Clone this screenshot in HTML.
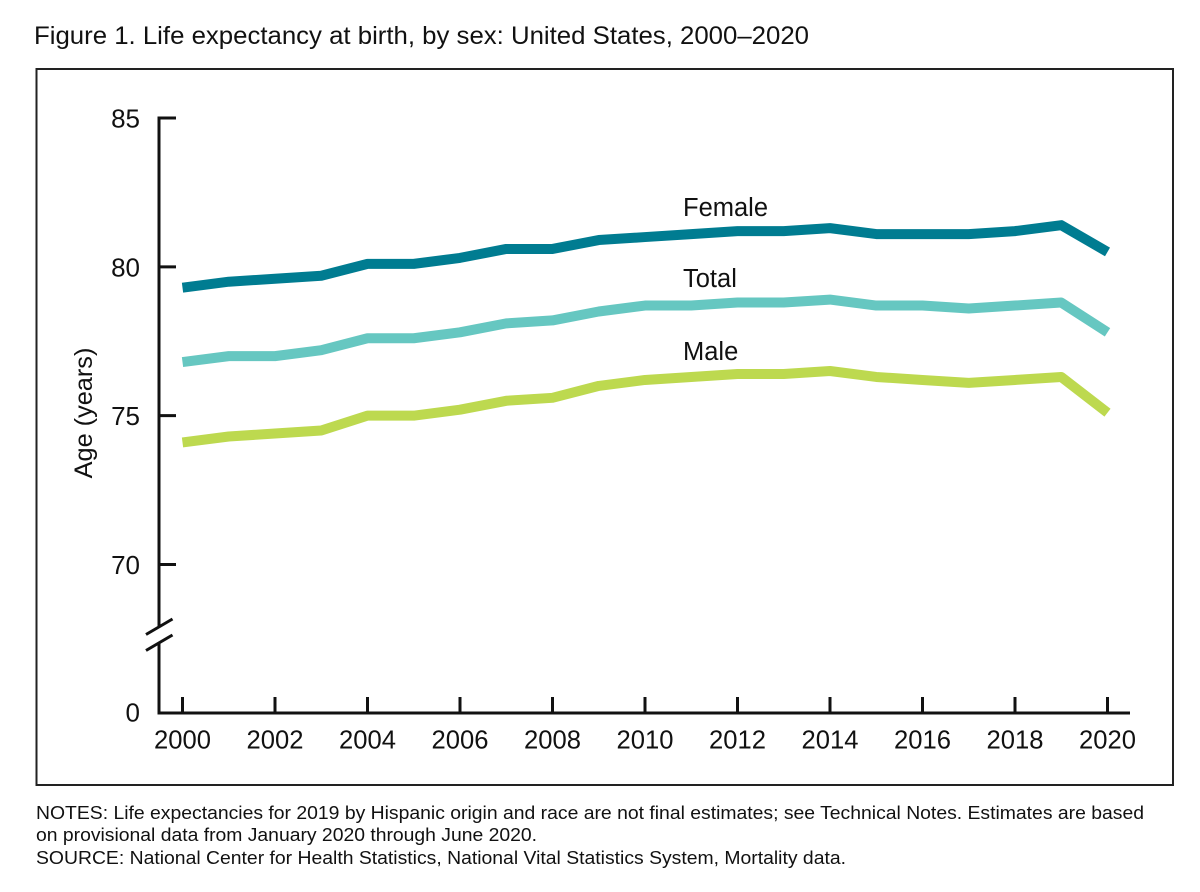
<!DOCTYPE html>
<html lang="en">
<head>
<meta charset="utf-8">
<title>Life expectancy at birth, by sex</title>
<style>
html,body{margin:0;padding:0;background:#fff;width:1200px;height:892px;overflow:hidden}
svg{display:block;font-family:"Liberation Sans",Arial,sans-serif;fill:#111}
</style>
</head>
<body>
<svg id="chart" width="1200" height="892" viewBox="0 0 1200 892">
<rect x="0" y="0" width="1200" height="892" fill="#fff"/>
<text x="34" y="44" font-size="25.4" textLength="775" lengthAdjust="spacingAndGlyphs">Figure 1. Life expectancy at birth, by sex: United States, 2000–2020</text>
<rect x="36.5" y="69" width="1136.5" height="716" fill="none" stroke="#222" stroke-width="2"/>
<g id="axes"></g>
<g id="series"></g>
<text transform="translate(92,413) rotate(-90)" text-anchor="middle" font-size="25.3">Age (years)</text>
<text x="683" y="216" font-size="25.5">Female</text>
<text x="683" y="287" font-size="25.5">Total</text>
<text x="683" y="360" font-size="25.5">Male</text>
<text x="36" y="819" font-size="18.8" textLength="1108" lengthAdjust="spacingAndGlyphs">NOTES: Life expectancies for 2019 by Hispanic origin and race are not final estimates; see Technical Notes. Estimates are based</text>
<text x="36" y="841" font-size="18.8" textLength="501" lengthAdjust="spacingAndGlyphs">on provisional data from January 2020 through June 2020.</text>
<text x="36" y="864" font-size="18.8" textLength="810" lengthAdjust="spacingAndGlyphs">SOURCE: National Center for Health Statistics, National Vital Statistics System, Mortality data.</text>
</svg>
<script>
const years = [2000,2001,2002,2003,2004,2005,2006,2007,2008,2009,2010,2011,2012,2013,2014,2015,2016,2017,2018,2019,2020];
const female = [79.3,79.5,79.6,79.7,80.1,80.1,80.3,80.6,80.6,80.9,81.0,81.1,81.2,81.2,81.3,81.1,81.1,81.1,81.2,81.4,80.5];
const total = [76.8,77.0,77.0,77.2,77.6,77.6,77.8,78.1,78.2,78.5,78.7,78.7,78.8,78.8,78.9,78.7,78.7,78.6,78.7,78.8,77.8];
const male = [74.1,74.3,74.4,74.5,75.0,75.0,75.2,75.5,75.6,76.0,76.2,76.3,76.4,76.4,76.5,76.3,76.2,76.1,76.2,76.3,75.1];
const yTickValues = [70,75,80,85];
const xTickYears = [2000,2002,2004,2006,2008,2010,2012,2014,2016,2018,2020];

const NS = 'http://www.w3.org/2000/svg';
const xScale = v => 182.5 + (v - 2000) * (1107.5 - 182.5) / 20;
const yScale = v => 564.5 + (v - 70) * (118 - 564.5) / 15;
const INK = '#111';
const BASE_Y = 713;
const AXIS_X = 159;

function make(parent, tag, attrs) {
  const el = document.createElementNS(NS, tag);
  for (const k in attrs) el.setAttribute(k, attrs[k]);
  parent.appendChild(el);
  return el;
}
function rule(parent, x1, y1, x2, y2) {
  return make(parent, 'line', {x1, y1, x2, y2, stroke: INK, 'stroke-width': 3, 'stroke-linecap': 'butt'});
}

const axes = document.getElementById('axes');
const seriesGroup = document.getElementById('series');

const yUpper = rule(axes, AXIS_X, yScale(85) - 1.5, AXIS_X, 626);


const yLower = rule(axes, AXIS_X, 643, AXIS_X, BASE_Y + 1.5);


const breakTop = rule(axes, 146, 634.5, 172.5, 619);


const breakBottom = rule(axes, 146, 650.5, 172.5, 635);


const xAxis = rule(axes, AXIS_X - 1.5, BASE_Y, 1130, BASE_Y);



yTickValues.forEach(v => {
  const t = rule(axes, AXIS_X, yScale(v), 176, yScale(v));
  
  
  const l = make(axes, 'text', {x: 140, y: yScale(v) + 9.5, 'text-anchor': 'end', 'font-size': 26});
  l.textContent = v;
  
  
});
const zeroLabel = make(axes, 'text', {x: 140, y: BASE_Y + 8.5, 'text-anchor': 'end', 'font-size': 26});
zeroLabel.textContent = '0';



xTickYears.forEach(y => {
  const t = rule(axes, xScale(y), 697, xScale(y), BASE_Y);
  
  
  const l = make(axes, 'text', {x: xScale(y), y: 748.5, 'text-anchor': 'middle', 'font-size': 25.6});
  l.textContent = y;
  
  
});

function drawSeries(values, color, name) {
  const d = values.map((v, i) => (i ? 'L' : 'M') + xScale(years[i]).toFixed(2) + ' ' + yScale(v).toFixed(2)).join(' ');
  const p = make(seriesGroup, 'path', {d, fill: 'none', stroke: color, 'stroke-width': 10, 'stroke-linejoin': 'round', 'stroke-linecap': 'butt'});
  
  
}
drawSeries(female, '#007c91', 'line-female');
drawSeries(total, '#66c7c1', 'line-total');
drawSeries(male, '#bdd94f', 'line-male');
</script>
</body>
</html>
